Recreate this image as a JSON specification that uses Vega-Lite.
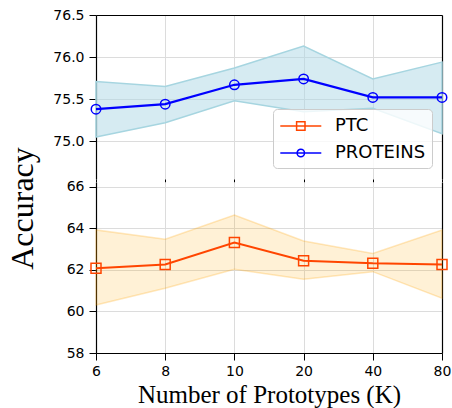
{
  "$schema": "https://vega.github.io/schema/vega-lite/v6.json",
  "padding": {"left": 6, "top": 8, "right": 5, "bottom": 5},
  "config": {
    "view": {"stroke": null},
    "axis": {
      "labelFont": "DejaVu Sans", "labelFontSize": 14, "labelColor": "black",
      "domainColor": "black", "domainWidth": 1.2,
      "tickColor": "black", "tickWidth": 1, "tickSize": 7,
      "gridColor": "#dcdcdc", "gridWidth": 1,
      "titleColor": "black", "titleFontWeight": "normal", "titleFont": "Liberation Serif"
    }
  },
  "bounds": "flush",
  "spacing": 3,
  "vconcat": [
    {
      "width": 346, "height": 164,
      "data": {"values": [
        {"K": "6", "mean": 75.38, "lo": 75.05, "hi": 75.71},
        {"K": "8", "mean": 75.44, "lo": 75.22, "hi": 75.65},
        {"K": "10", "mean": 75.67, "lo": 75.48, "hi": 75.87},
        {"K": "20", "mean": 75.74, "lo": 75.35, "hi": 76.13},
        {"K": "40", "mean": 75.52, "lo": 75.39, "hi": 75.74},
        {"K": "80", "mean": 75.52, "lo": 75.09, "hi": 75.94}
      ]},
      "layer": [
        {
          "mark": {"type": "area", "fill": "#add8e6", "fillOpacity": 0.5, "stroke": "#a6d5e0", "strokeWidth": 1.5},
          "encoding": {
            "x": {"field": "K", "type": "ordinal", "sort": null, "scale": {"type": "point", "padding": 0},
                  "axis": {"orient": "bottom", "labels": false, "domain": false, "ticks": true, "tickSize": 3, "grid": true, "title": null}},
            "y": {"field": "lo", "type": "quantitative", "scale": {"domain": [74.55, 76.5], "zero": false, "nice": false},
                  "axis": {"values": [75, 75.5, 76, 76.5], "format": ".1f", "grid": true, "title": "Accuracy", "titleFontSize": 32,
                           "titleX": -57, "titleY": 193, "titlePadding": 0, "labelPadding": 5}},
            "y2": {"field": "hi"}
          }
        },
        {
          "mark": {"type": "line", "color": "#0000ff", "strokeWidth": 2.2},
          "encoding": {
            "x": {"field": "K", "type": "ordinal", "sort": null,
                  "axis": {"orient": "top", "labels": false, "ticks": false, "grid": false, "title": null, "domain": true}},
            "y": {"field": "mean", "type": "quantitative",
                  "axis": {"orient": "right", "labels": false, "ticks": false, "grid": false, "title": null, "domain": true}}
          }
        },
        {
          "mark": {"type": "point", "shape": "circle", "filled": false, "color": "#0000ff", "strokeWidth": 1.5, "size": 90, "opacity": 1},
          "encoding": {
            "x": {"field": "K", "type": "ordinal", "sort": null, "axis": null},
            "y": {"field": "mean", "type": "quantitative", "axis": null}
          }
        },
        {
          "data": {"values": [{"series": "PTC"}, {"series": "PROTEINS"}]},
          "mark": {"type": "point", "filled": false, "opacity": 0, "strokeWidth": 1.5},
          "encoding": {
            "color": {"field": "series", "type": "nominal",
                      "scale": {"domain": ["PTC", "PROTEINS"], "range": ["#ff4500", "#0000ff"]},
                      "legend": {"title": null, "orient": "none", "legendX": 177, "legendY": 94,
                                 "labelFont": "DejaVu Sans", "labelFontSize": 18, "labelColor": "black",
                                 "symbolSize": 400, "symbolStrokeWidth": 1.5, "symbolOpacity": 1, "labelOffset": 34,
                                 "padding": 6, "rowPadding": 7, "strokeColor": "#cccccc",
                                 "fillColor": "rgba(255,255,255,0.8)", "cornerRadius": 4}},
            "shape": {"field": "series", "type": "nominal",
                      "scale": {"domain": ["PTC", "PROTEINS"],
                                "range": ["M-0.97,0H3.13M0.66,-0.42H1.5V0.42H0.66Z",
                                          "M-0.97,0H3.13M0.71,0A0.37,0.37,0,1,0,1.45,0A0.37,0.37,0,1,0,0.71,0Z"]},
                      "legend": {"title": null, "orient": "none", "legendX": 177, "legendY": 94,
                                 "labelFont": "DejaVu Sans", "labelFontSize": 18, "labelColor": "black",
                                 "symbolSize": 400, "symbolStrokeWidth": 1.5, "symbolOpacity": 1, "labelOffset": 34,
                                 "padding": 6, "rowPadding": 7, "strokeColor": "#cccccc",
                                 "fillColor": "rgba(255,255,255,0.8)", "cornerRadius": 4}}
          }
        }
      ],
      "resolve": {"axis": {"x": "independent", "y": "independent"}}
    },
    {
      "width": 346, "height": 171,
      "data": {"values": [
        {"K": "6", "mean": 62.08, "lo": 60.31, "hi": 63.93},
        {"K": "8", "mean": 62.27, "lo": 61.12, "hi": 63.48},
        {"K": "10", "mean": 63.32, "lo": 62.03, "hi": 64.65},
        {"K": "20", "mean": 62.45, "lo": 61.55, "hi": 63.4},
        {"K": "40", "mean": 62.32, "lo": 61.92, "hi": 62.8},
        {"K": "80", "mean": 62.27, "lo": 60.64, "hi": 63.93}
      ]},
      "layer": [
        {
          "mark": {"type": "area", "fill": "#ffa500", "fillOpacity": 0.16, "stroke": "#ffa500", "strokeOpacity": 0.25, "strokeWidth": 1.5},
          "encoding": {
            "x": {"field": "K", "type": "ordinal", "sort": null, "scale": {"type": "point", "padding": 0},
                  "axis": {"orient": "bottom", "labelAngle": 0, "labelPadding": 4, "grid": true,
                           "title": "Number of Prototypes (K)", "titleFontSize": 25, "titlePadding": 4}},
            "y": {"field": "lo", "type": "quantitative", "scale": {"domain": [58, 66.24], "zero": false, "nice": false},
                  "axis": {"values": [58, 60, 62, 64, 66], "format": "d", "grid": true, "title": null, "labelPadding": 5}},
            "y2": {"field": "hi"}
          }
        },
        {
          "mark": {"type": "line", "color": "#ff4500", "strokeWidth": 2},
          "encoding": {
            "x": {"field": "K", "type": "ordinal", "sort": null, "axis": null},
            "y": {"field": "mean", "type": "quantitative",
                  "axis": {"orient": "right", "labels": false, "ticks": false, "grid": false, "title": null, "domain": true}}
          }
        },
        {
          "mark": {"type": "point", "shape": "square", "filled": false, "color": "#ff4500", "strokeWidth": 1.5, "size": 100, "opacity": 1},
          "encoding": {
            "x": {"field": "K", "type": "ordinal", "sort": null, "axis": null},
            "y": {"field": "mean", "type": "quantitative", "axis": null}
          }
        }
      ],
      "resolve": {"axis": {"x": "independent", "y": "independent"}}
    }
  ]
}
